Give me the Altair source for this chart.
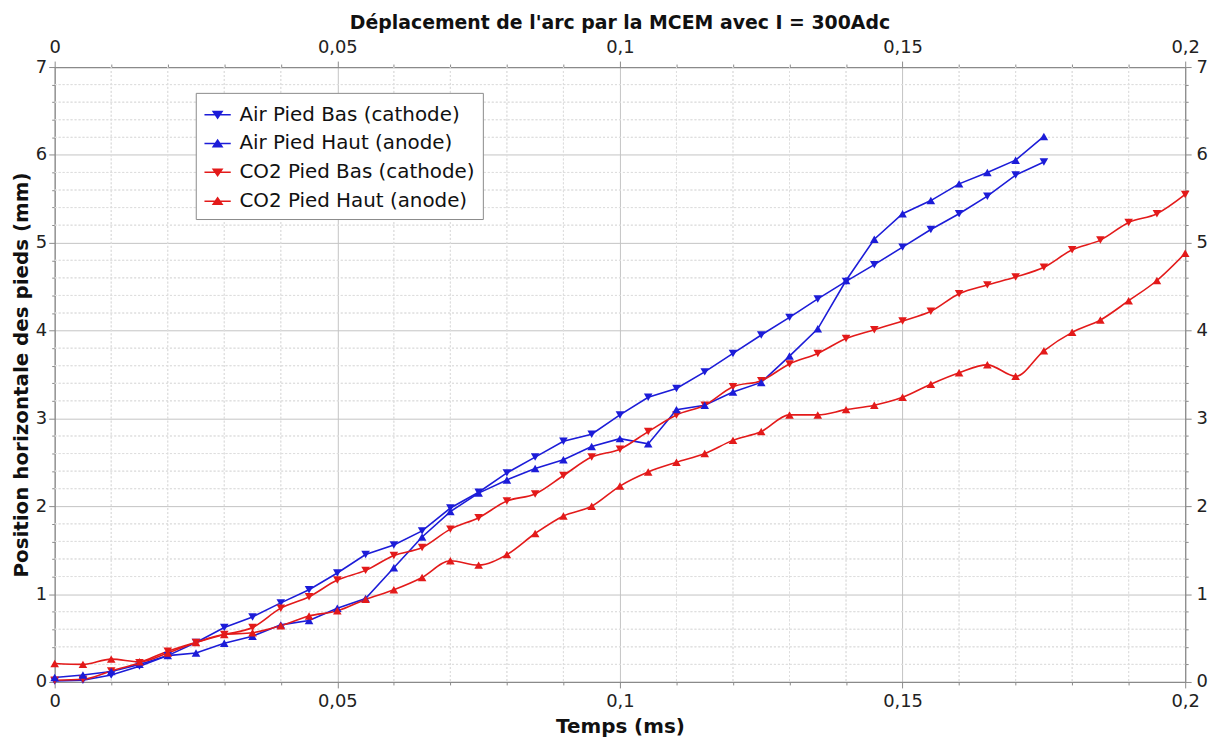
import altair as alt
import pandas as pd

# ---------------- data ----------------
t_air = [0, 0.005, 0.01, 0.015, 0.02, 0.025, 0.03, 0.035, 0.04, 0.045,
         0.05, 0.055, 0.06, 0.065, 0.07, 0.075, 0.08, 0.085, 0.09, 0.095,
         0.1, 0.105, 0.11, 0.115, 0.12, 0.125, 0.13, 0.135, 0.14, 0.145,
         0.15, 0.155, 0.16, 0.165, 0.17, 0.175]
t_co2 = t_air + [0.18, 0.185, 0.19, 0.195, 0.2]

air_bas = [0.01, 0.02, 0.08, 0.18, 0.30, 0.45, 0.62, 0.74, 0.90, 1.05,
           1.24, 1.45, 1.56, 1.72, 1.98, 2.16, 2.38, 2.56, 2.74, 2.82,
           3.04, 3.24, 3.34, 3.53, 3.74, 3.95, 4.15, 4.36, 4.56, 4.75,
           4.95, 5.15, 5.33, 5.53, 5.77, 5.92]
air_haut = [0.05, 0.08, 0.12, 0.20, 0.30, 0.33, 0.44, 0.52, 0.65, 0.70,
            0.84, 0.95, 1.30, 1.65, 1.94, 2.15, 2.30, 2.43, 2.53, 2.68,
            2.77, 2.71, 3.10, 3.15, 3.30, 3.41, 3.71, 4.02, 4.57, 5.04,
            5.33, 5.48, 5.67, 5.80, 5.94, 6.21]
co2_bas = [0.02, 0.03, 0.125, 0.22, 0.35, 0.45, 0.54, 0.62, 0.84, 0.97,
           1.16, 1.27, 1.44, 1.53, 1.74, 1.87, 2.06, 2.14, 2.35, 2.56,
           2.65, 2.85, 3.04, 3.15, 3.36, 3.43, 3.62, 3.74, 3.91, 4.01,
           4.11, 4.22, 4.42, 4.52, 4.61, 4.72, 4.92, 5.03, 5.23, 5.33, 5.55]
co2_haut = [0.21, 0.20, 0.26, 0.23, 0.33, 0.45, 0.54, 0.56, 0.64, 0.75,
            0.81, 0.94, 1.05, 1.19, 1.38, 1.33, 1.45, 1.69, 1.89, 2.00,
            2.23, 2.39, 2.50, 2.60, 2.75, 2.85, 3.04, 3.04, 3.10, 3.15,
            3.24, 3.39, 3.52, 3.61, 3.48, 3.77, 3.98, 4.12, 4.34, 4.57, 4.88]

series_names = ["Air Pied Bas (cathode)", "Air Pied Haut (anode)",
                "CO2 Pied Bas (cathode)", "CO2 Pied Haut (anode)"]
series_gas = ["Air", "Air", "CO2", "CO2"]
series_foot = ["Bas", "Haut", "Bas", "Haut"]
series_colors = ["#1c1cd8", "#1c1cd8", "#e31a1a", "#e31a1a"]

x_major = [0, 0.05, 0.1, 0.15, 0.2]
x_minor = [0.01, 0.02, 0.03, 0.04, 0.06, 0.07, 0.08, 0.09, 0.11, 0.12,
           0.13, 0.14, 0.16, 0.17, 0.18, 0.19]
y_major = [0, 1, 2, 3, 4, 5, 6, 7]
y_minor = [0.2, 0.4, 0.6, 0.8, 1.2, 1.4, 1.6, 1.8, 2.2, 2.4, 2.6, 2.8,
           3.2, 3.4, 3.6, 3.8, 4.2, 4.4, 4.6, 4.8, 5.2, 5.4, 5.6, 5.8,
           6.2, 6.4, 6.6, 6.8]

title_text = "Déplacement de l'arc par la MCEM avec I = 300Adc"
x_title = "Temps (ms)"
y_title = "Position horizontale des pieds (mm)"

# ---------------- tables ----------------
rows = []
for name, gas, foot, ts, vs in zip(series_names, series_gas, series_foot,
                                   [t_air, t_air, t_co2, t_co2],
                                   [air_bas, air_haut, co2_bas, co2_haut]):
    for t, v in zip(ts, vs):
        rows.append({"series": name, "gas": gas, "foot": foot, "t": t, "v": v})
df = pd.DataFrame(rows)
df_xminor = pd.DataFrame({"t": x_minor})
df_yminor = pd.DataFrame({"v": y_minor})

xs = alt.Scale(domain=[0, 0.2], nice=False, zero=False)
ys = alt.Scale(domain=[0, 7], nice=False, zero=False)
# colour scale for the drawn marks (reversed order so its hidden legend stays separate)
cscale = alt.Scale(domain=series_names[::-1], range=series_colors[::-1])
# scales for the legend
lscale = alt.Scale(domain=series_names, range=series_colors)

FONT = "DejaVu Sans"
FRAME = "#8a8a8a"
label_expr = "replace(toString(datum.value), '.', ',')"


def major_axis(orient, values, title=None, grid=False, fmt=True, lpad=2, tpad=4):
    kw = dict(orient=orient, values=values, grid=grid, gridColor="#c4c4c4",
              gridWidth=1, domain=True, domainColor=FRAME, domainWidth=1.2,
              ticks=True, tickSize=6, tickColor=FRAME, labelFont=FONT,
              labelFontSize=18, labelColor="#222", labelPadding=lpad,
              titleFont=FONT, titleFontSize=20, titleFontWeight="bold",
              titleColor="#111", title=title, labelFlush=False,
              labelOverlap=False, titlePadding=tpad)
    if fmt:
        kw["labelExpr"] = label_expr
    return alt.Axis(**kw)


def minor_axis(orient, values):
    return alt.Axis(orient=orient, values=values, labels=False, grid=False,
                    domain=False, ticks=True, tickSize=3, tickColor=FRAME,
                    title=None)


base = alt.Chart(df)

rule_style = dict(color="#dedede", strokeDash=[2, 2], strokeWidth=1)
grid_v_b = alt.Chart(df_xminor).mark_rule(**rule_style).encode(
    x=alt.X("t:Q", scale=xs, axis=minor_axis("bottom", x_minor)))
grid_v_t = alt.Chart(df_xminor).mark_rule(**rule_style).encode(
    x=alt.X("t:Q", scale=xs, axis=minor_axis("top", x_minor)))
grid_h_l = alt.Chart(df_yminor).mark_rule(**rule_style).encode(
    y=alt.Y("v:Q", scale=ys, axis=minor_axis("left", y_minor)))
grid_h_r = alt.Chart(df_yminor).mark_rule(**rule_style).encode(
    y=alt.Y("v:Q", scale=ys, axis=minor_axis("right", y_minor)))

line_air = base.transform_filter(alt.datum.gas == "Air").mark_line(strokeWidth=1.6).encode(
    x=alt.X("t:Q", scale=xs, axis=major_axis("bottom", x_major, x_title, grid=True, lpad=5, tpad=6)),
    y=alt.Y("v:Q", scale=ys, axis=major_axis("left", y_major, y_title, grid=True, fmt=False)),
    color=alt.Color("series:N", scale=cscale, legend=None),
    detail="series:N")
line_co2 = base.transform_filter(alt.datum.gas == "CO2").mark_line(
    strokeWidth=1.6, interpolate="monotone").encode(
    x=alt.X("t:Q", scale=xs, axis=None),
    y=alt.Y("v:Q", scale=ys, axis=None),
    color=alt.Color("series:N", scale=cscale, legend=None),
    detail="series:N")

pts_down = base.transform_filter(alt.datum.foot == "Bas").mark_point(
    shape="triangle-down", filled=True, size=75, opacity=1).encode(
    x=alt.X("t:Q", scale=xs, axis=major_axis("top", x_major, lpad=5)),
    y=alt.Y("v:Q", scale=ys, axis=major_axis("right", y_major, fmt=False, lpad=5)),
    color=alt.Color("series:N", scale=cscale, legend=None))
pts_up = base.transform_filter(alt.datum.foot == "Haut").mark_point(
    shape="triangle-up", filled=True, size=75, opacity=1).encode(
    x=alt.X("t:Q", scale=xs, axis=None),
    y=alt.Y("v:Q", scale=ys, axis=None),
    color=alt.Color("series:N", scale=cscale, legend=None))

# legend-only layer (invisible marks, legend symbols made visible)
down_path = "M-1,0L1,0M-0.34,-0.24L0.34,-0.24L0,0.26Z"
up_path = "M-1,0L1,0M-0.34,0.24L0.34,0.24L0,-0.26Z"
shape_scale = alt.Scale(domain=series_names, range=[down_path, up_path, down_path, up_path])
leg = dict(orient="none", legendX=142, legendY=26, title=None,
           fillColor="white", strokeColor="#8a8a8a", padding=8,
           labelFont=FONT, labelFontSize=20, labelColor="#111",
           symbolSize=700, symbolStrokeWidth=1.5, symbolOpacity=1,
           rowPadding=5, labelOffset=8, labelLimit=400)
legend_layer = base.mark_point(filled=True, opacity=0).encode(
    x=alt.X("t:Q", scale=xs, axis=None),
    y=alt.Y("v:Q", scale=ys, axis=None),
    fill=alt.Fill("series:N", scale=lscale, legend=alt.Legend(**leg)),
    stroke=alt.Stroke("series:N", scale=lscale, legend=alt.Legend(**leg)),
    shape=alt.Shape("series:N", scale=shape_scale, legend=alt.Legend(**leg)))

chart = alt.layer(
    grid_v_b, grid_v_t, grid_h_l, grid_h_r,
    line_air, line_co2, pts_down, pts_up, legend_layer
).resolve_axis(
    x="independent", y="independent"
).properties(
    width=1138, height=619,
    title=alt.TitleParams(title_text, font=FONT, fontSize=19, fontWeight="bold",
                          color="#111", anchor="middle", offset=5),
    padding={"left": 47, "top": 57, "right": 29, "bottom": 56},
    autosize=alt.AutoSizeParams(type="none"),
).configure_view(
    stroke=FRAME, strokeWidth=1.2
).configure(background="white")

chart.save("out.html", embed_options={"renderer": "svg", "actions": False})
